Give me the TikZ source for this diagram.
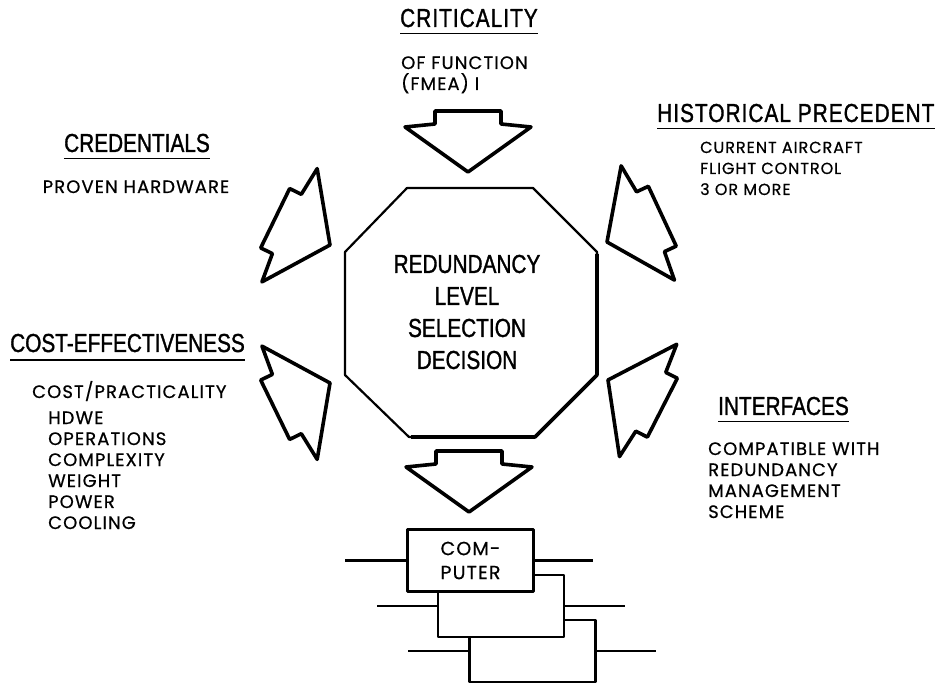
\documentclass[tikz,border=0pt]{standalone}
\usepackage{fontspec}
\newfontfamily\headfont[FakeStretch=0.8, FakeBold=1.2]{Liberation Sans}
\newfontfamily\headwide[FakeStretch=0.8, FakeBold=1.2, LetterSpace=4]{Liberation Sans}
\newfontfamily\bodyfont[LetterSpace=6, FakeBold=0.6]{Poppins}

\begin{document}
\begin{tikzpicture}[x=1pt, y=-1pt, line join=round,
    titletext/.style={font=\headfont\fontsize{26}{32}\selectfont, inner sep=0pt},
    widetitle/.style={titletext, font=\headwide\fontsize{26}{32}\selectfont},
    subtext/.style={font=\bodyfont\fontsize{18}{21}\selectfont, inner sep=0pt, align=left},
    uline/.style={line width=1.8pt},
    arrowline/.style={line width=3.6pt},
    octline/.style={line width=2.2pt},
    wire/.style={line width=2.2pt},
    cbox/.style={draw, fill=white, line width=2.6pt, minimum width=126pt,
                 minimum height=62pt, inner sep=0pt},
    bigarrow/.pic={\draw[arrowline] (0,0) -- (-45,63) -- (-48,33) -- (-61,33)
                   -- (-61,-33) -- (-48,-33) -- (-45,-63) -- cycle;}]
  \useasboundingbox (0,0) rectangle (940,684);

  % Decision octagon
  \draw[octline] (407,188) -- (533,188) -- (597,252) -- (597,375) -- (535,437)
    -- (409,437) -- (345,375) -- (345,252) -- cycle;
  \draw[line width=3.6pt] (597,254) -- (597,375) -- (535,437) -- (411,437);
  \node[titletext, align=center] (decision) at (467,312)
    {REDUNDANCY\\LEVEL\\SELECTION\\DECISION};

  % Input arrows
  \pic[rotate=-90] at (468,172) {bigarrow};
  \pic[rotate=-26] at (330,245) {bigarrow};
  \pic[rotate=205] at (607,242) {bigarrow};
  \pic[rotate=26] at (330,383) {bigarrow};
  \pic[rotate=153] at (608,380) {bigarrow};

  % Output arrow
  \pic[rotate=-90] at (469,512) {bigarrow};

  % Criticality (base of a multi-line node = its last line)
  \node[widetitle, anchor=base] (crit) at (469,27) {CRITICALITY};
  \draw[uline] ([yshift=-6.5pt]crit.base west) -- ([yshift=-6.5pt]crit.base east);
  \node[subtext, anchor=base west] (critsub) at (401,90) {OF FUNCTION\\(FMEA) I};

  % Historical precedent
  \node[widetitle, anchor=base west] (hist) at (657,122) {HISTORICAL PRECEDENT};
  \draw[uline] ([yshift=-6.5pt]hist.base west) -- ([yshift=-6.5pt]hist.base east);
  \node[subtext, font=\bodyfont\fontsize{16}{21}\selectfont, anchor=base west]
    (histsub) at (700,195) {CURRENT AIRCRAFT\\FLIGHT CONTROL\\3 OR MORE};

  % Credentials
  \node[titletext, anchor=base] (cred) at (137,152) {CREDENTIALS};
  \draw[uline] ([yshift=-6.5pt]cred.base west) -- ([yshift=-6.5pt]cred.base east);
  \node[subtext, anchor=base] (credsub) at (136,193) {PROVEN HARDWARE};

  % Cost-effectiveness
  \node[titletext, anchor=base west] (cost) at (10,352) {COST-EFFECTIVENESS};
  \draw[uline] ([yshift=-8pt]cost.base west) -- ([yshift=-8pt]cost.base east);
  \node[subtext, anchor=base west] (costsub) at (32,398) {COST/PRACTICALITY};
  \node[subtext, anchor=base west] (costlist) at (48,529)
    {HDWE\\OPERATIONS\\COMPLEXITY\\WEIGHT\\POWER\\COOLING};

  % Interfaces
  \node[titletext, anchor=base west] (intf) at (718,415) {INTERFACES};
  \draw[uline] ([yshift=-6.5pt]intf.base west) -- ([yshift=-6.5pt]intf.base east);
  \node[subtext, anchor=base west] (intfsub) at (708,518)
    {COMPATIBLE WITH\\REDUNDANCY\\MANAGEMENT\\SCHEME};

  % Computer stack
  \node[cbox] (comp3) at (532.5,651) {};
  \node[cbox] (comp2) at (501,606) {};
  \node[cbox, font=\bodyfont\fontsize{19}{24}\selectfont, align=center]
    (comp1) at (470.5,560.5) {COM-\\PUTER};
  \coordinate (in1) at (345,560.5);
  \coordinate (out1) at (593,560.5);
  \coordinate (in2) at (377,606);
  \coordinate (out2) at (625,606);
  \coordinate (in3) at (408,651);
  \coordinate (out3) at (656,651);
  \draw[wire] (in1) -- (comp1.west);
  \draw[wire] (comp1.east) -- (out1);
  \draw[wire] (in2) -- (comp2.west);
  \draw[wire] (comp2.east) -- (out2);
  \draw[wire] (in3) -- (comp3.west);
  \draw[wire] (comp3.east) -- (out3);
\end{tikzpicture}
\end{document}
